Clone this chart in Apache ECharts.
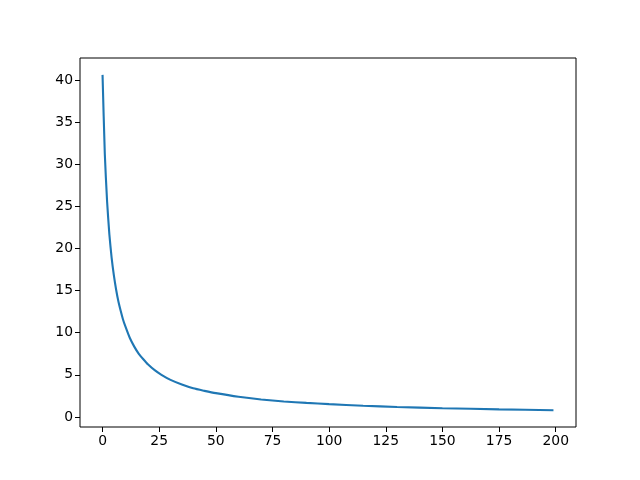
<!DOCTYPE html>
<html>
<head>
<meta charset="utf-8">
<script src="https://cdn.jsdelivr.net/npm/echarts@6/dist/echarts.min.js"></script>
<style>html,body{margin:0;padding:0;background:#fff}#c{width:640px;height:480px}</style>
</head>
<body>
<div id="c"></div>
<script>
var xValues = [0,1,2,3,4,5,6,7,8,9,10,12,14,16,18,20,23,26,30,35,40,45,50,60,70,80,90,100,115,130,150,175,199];
var yValues = [40.6,31.2,25.6,21.7,18.9,16.8,15.1,13.7,12.6,11.6,10.8,9.4,8.35,7.5,6.85,6.25,5.55,5.0,4.4,3.85,3.4,3.1,2.83,2.4,2.08,1.84,1.67,1.52,1.34,1.19,1.04,0.9,0.80];
var xTicks = [0,25,50,75,100,125,150,175,200];
var yTicks = [0,5,10,15,20,25,30,35,40];

var pts = xValues.map(function(x,i){return [x,yValues[i]];});
var chart = echarts.init(document.getElementById('c'));
var font = {fontFamily:'DejaVu Sans', fontSize:13.9, color:'#000'};
chart.setOption({
  animation:false,
  backgroundColor:'#fff',
  grid:{left:80,right:64,top:58,bottom:53,show:true,borderColor:'#000',borderWidth:1,backgroundColor:'transparent'},
  xAxis:{type:'value',min:-9.95,max:208.95,
    axisLine:{show:false,onZero:false},
    splitLine:{show:false},
    axisTick:{show:true,length:5,inside:false,customValues:xTicks,lineStyle:{color:'#000',width:1}},
    axisLabel:Object.assign({customValues:xTicks,margin:7,showMinLabel:true,showMaxLabel:true},font)},
  yAxis:{type:'value',min:-1.19,max:42.6,
    axisLine:{show:false,onZero:false},
    splitLine:{show:false},
    axisTick:{show:true,length:5,inside:false,customValues:yTicks,lineStyle:{color:'#000',width:1}},
    axisLabel:Object.assign({customValues:yTicks,margin:7},font)},
  series:[{type:'line',data:pts,showSymbol:false,smooth:0.2,
    lineStyle:{color:'#1f77b4',width:2.1},itemStyle:{color:'#1f77b4'}}]
});
</script>
</body>
</html>
